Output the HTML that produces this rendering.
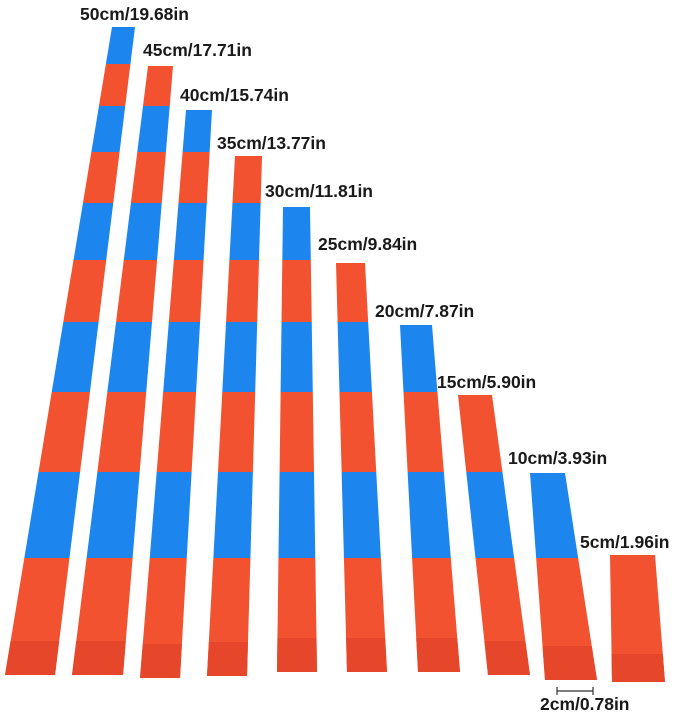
<!DOCTYPE html>
<html><head><meta charset="utf-8"><style>
html,body{margin:0;padding:0;background:#fff;}
svg{display:block}
text{font-family:"Liberation Sans",sans-serif;font-weight:bold;font-size:17.5px;fill:#1a1a1a}
</style></head><body>
<svg id="s" width="679" height="716" viewBox="0 0 679 716" xmlns="http://www.w3.org/2000/svg">
<text x="80" y="20">50cm/19.68in</text>
<text x="143" y="56">45cm/17.71in</text>
<text x="180" y="101">40cm/15.74in</text>
<text x="217" y="149">35cm/13.77in</text>
<text x="265" y="197">30cm/11.81in</text>
<text x="318" y="250">25cm/9.84in</text>
<text x="375" y="317">20cm/7.87in</text>
<text x="437" y="388">15cm/5.90in</text>
<text x="508" y="464">10cm/3.93in</text>
<text x="580" y="548">5cm/1.96in</text>
<text x="540" y="710">2cm/0.78in</text>
<line x1="557" y1="691" x2="593" y2="691" stroke="#333" stroke-width="1.2"/>
<line x1="557" y1="687" x2="557" y2="695" stroke="#333" stroke-width="1.2"/>
<line x1="593" y1="687" x2="593" y2="695" stroke="#333" stroke-width="1.2"/>
<g id="g"></g>
</svg>
<script>
var B=[27,64,106,152,203,260,322,392,472,558];
var rods=[
[112,135,27,5,55,675,0],
[148,173,66,72,123,675,1],
[186,212,110,140,180,678,2],
[235,262,156,207,247,676,3],
[283,310,207,277,317,672,4],
[336,365,263,347,387,672,5],
[400,432,325,418,460,672,6],
[458,492,395,488,530,675,7],
[530,565,473,545,597,680,8],
[610,655,555,612,665,682,9]];
var out="";
function lx(r,y,side){var t=(y-r[2])/(r[5]-r[2]);return side?r[1]+(r[4]-r[1])*t:r[0]+(r[3]-r[0])*t;}
function quad(r,y1,y2,c){return '<polygon fill="'+c+'" points="'+lx(r,y1,0)+','+y1+' '+lx(r,y1,1)+','+y1+' '+lx(r,y2,1)+','+y2+' '+lx(r,y2,0)+','+y2+'"/>';}
rods.forEach(function(r){
  var i=r[6];
  var ys=[r[2]];
  if(i<9){for(var k=i+1;k<B.length;k++)ys.push(B[k]);}
  ys.push(r[5]);
  for(var k=0;k<ys.length-1;k++){
    var segIdx=(i<9)?i+k:9;
    var c=(segIdx%2==0)?"#1c86ee":"#f2522f";
    if(i==9)c="#f2522f";
    out+=quad(r,ys[k],ys[k+1],c);
  }
  var capTop=r[5]-(i==9?28:34);
  out+=quad(r,capTop,r[5],"#e6472a");
});
document.getElementById("g").innerHTML=out;
</script>
</body></html>
